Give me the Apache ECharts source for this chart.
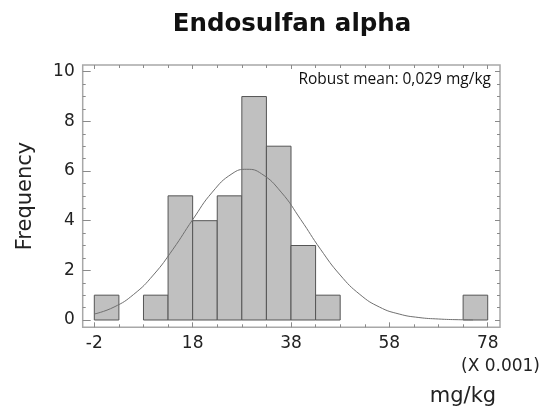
<!DOCTYPE html>
<html>
<head>
<meta charset="utf-8">
<script src="https://cdn.jsdelivr.net/npm/echarts@6/dist/echarts.min.js"></script>
<style>
html,body{margin:0;padding:0;background:#fff;}
#chart{width:550px;height:413px;}
</style>
</head>
<body>
<div id="chart"></div>
<script>
// Histogram bins (units of 0.001 mg/kg)
const binStarts = [-2, 8, 13, 18, 23, 28, 33, 38, 43, 73];
const counts    = [1, 1, 5, 4, 5, 9, 7, 3, 1, 1];
const binWidth  = 5;

// Fitted normal curve
const curveX = [-2, 2, 6, 10, 14, 18, 22, 26, 29, 32, 36, 40, 44, 48, 52, 56, 60, 64, 68, 72, 75];
const curveY = [0.24, 0.52, 1.03, 1.81, 2.85, 4.04, 5.15, 5.89, 6.07, 5.89, 5.15, 4.04, 2.85, 1.81, 1.03, 0.52, 0.24, 0.10, 0.04, 0.012, 0.005];

// Axis ticks
const xMajorTicks = [-2, 18, 38, 58, 78];
const xMinorTicks = [3, 8, 13, 23, 28, 33, 43, 48, 53, 63, 68, 73];
const yMajorTicks = [0, 2, 4, 6, 8, 10];
const yMinorTicks = [0.5, 1, 1.5, 2.5, 3, 3.5, 4.5, 5, 5.5, 6.5, 7, 7.5, 8.5, 9, 9.5];
// Plot frame extent (data units)
const xMin = -4.36, xMax = 80.5;
const yMin = -0.294, yMax = 10.27;

const titleText = 'Endosulfan alpha';
const yTitle = 'Frequency';
const xTitle = 'mg/kg';
const xScaleNote = '(X 0.001)';
const noteText = 'Robust mean: 0,029 mg/kg';

const chart = echarts.init(document.getElementById('chart'), null, {renderer: 'canvas'});

const tickColor = '#8a8a8a';
const labelFont = 'DejaVu Sans';

function xAx(position, ticks, len, labels) {
  return {
    type: 'value', gridIndex: 0, position: position, min: xMin, max: xMax,
    axisLine: {show: false, onZero: false}, splitLine: {show: false},
    axisTick: {show: true, inside: true, length: len, customValues: ticks, lineStyle: {color: tickColor}},
    axisLabel: labels ? {show: true, customValues: ticks, margin: 8, fontSize: 17, color: '#222', fontFamily: labelFont}
                      : {show: false}
  };
}
function yAx(position, ticks, len, labels) {
  return {
    type: 'value', gridIndex: 0, position: position, min: yMin, max: yMax,
    axisLine: {show: false, onZero: false}, splitLine: {show: false},
    axisTick: {show: true, inside: true, length: len, customValues: ticks, lineStyle: {color: tickColor}},
    axisLabel: labels ? {show: true, customValues: ticks, margin: 8, fontSize: 17, color: '#222', fontFamily: labelFont}
                      : {show: false}
  };
}

const option = {
  animation: false,
  backgroundColor: '#fff',
  grid: [
    {left: 82.7, top: 65, width: 417.3, height: 262.3, show: true, borderColor: '#a8a8a8', borderWidth: 1.5, backgroundColor: 'transparent'}
  ],
  xAxis: [
    xAx('bottom', xMajorTicks, 5, true),
    xAx('bottom', xMinorTicks, 3, false),
    xAx('top', xMajorTicks, 4, false),
    xAx('top', xMinorTicks, 3, false)
  ],
  yAxis: [
    yAx('left', yMajorTicks, 8, true),
    yAx('left', yMinorTicks, 3, false),
    yAx('right', yMajorTicks, 5, false),
    yAx('right', yMinorTicks, 3, false)
  ],
  series: [
    {
      type: 'custom',
      xAxisIndex: 0, yAxisIndex: 0,
      data: binStarts.map((s, i) => [s, s + binWidth, counts[i]]),
      renderItem: function (params, api) {
        const p0 = api.coord([api.value(0), 0]);
        const p1 = api.coord([api.value(1), api.value(2)]);
        return {
          type: 'rect',
          shape: {x: p0[0], y: p1[1], width: p1[0] - p0[0], height: p0[1] - p1[1]},
          style: {fill: '#c0c0c0', stroke: '#555', lineWidth: 1}
        };
      },
      z: 2
    },
    {
      type: 'line',
      xAxisIndex: 0, yAxisIndex: 0,
      data: curveX.map((x, i) => [x, curveY[i]]),
      smooth: true,
      symbol: 'none',
      lineStyle: {color: '#707070', width: 1},
      z: 3
    }
  ],
  graphic: [
    {type: 'text', x: 292, y: 25, z: 10,
     style: {text: titleText, textAlign: 'center', textVerticalAlign: 'middle',
             font: 'bold 24.5px "DejaVu Sans"', fill: '#111'}},
    {type: 'text', x: 26, y: 196, rotation: Math.PI / 2, z: 10,
     style: {text: yTitle, textAlign: 'center', textVerticalAlign: 'middle',
             font: '21px "DejaVu Sans"', fill: '#222'}},
    {type: 'text', x: 540, y: 367, z: 10,
     style: {text: xScaleNote, textAlign: 'right', textVerticalAlign: 'middle',
             font: '17px "DejaVu Sans"', fill: '#222'}},
    {type: 'text', x: 463, y: 397, z: 10,
     style: {text: xTitle, textAlign: 'center', textVerticalAlign: 'middle',
             font: '21px "DejaVu Sans"', fill: '#222'}},
    {type: 'text', x: 491, y: 80, z: 10,
     style: {text: noteText, textAlign: 'right', textVerticalAlign: 'middle',
             font: '15.5px "Open Sans"', fill: '#111'}}
  ]
};
chart.setOption(option);
</script>
</body>
</html>
